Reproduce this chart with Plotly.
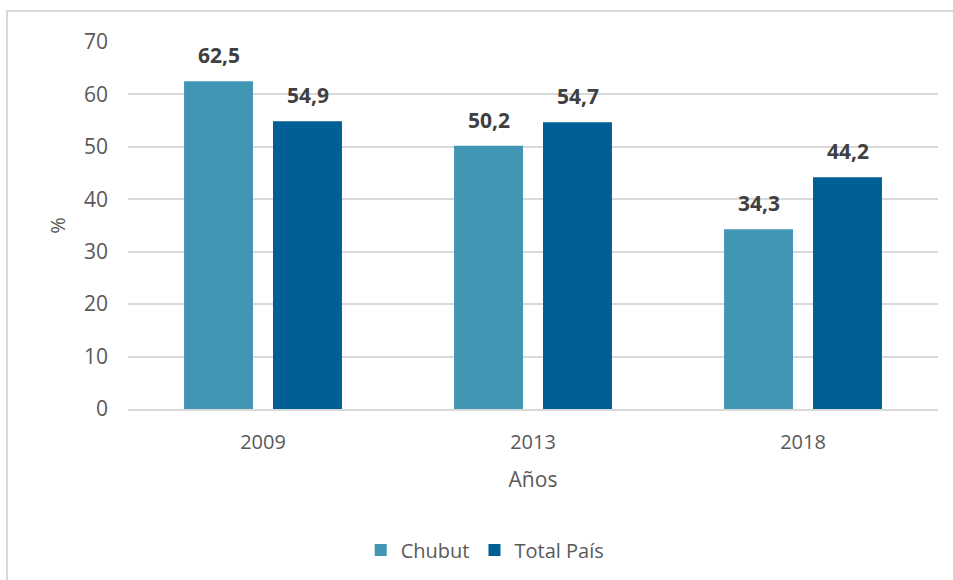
import plotly.graph_objects as go

# Data
years = ["2009", "2013", "2018"]
chubut = [62.5, 50.2, 34.3]
total_pais = [54.9, 54.7, 44.2]

series_names = ["Chubut", "Total País"]
series_colors = ["#4196B4", "#005F95"]

FONT = "Open Sans"
GRAY = "#595959"

fig = go.Figure()
for name, vals, color in zip(series_names, [chubut, total_pais], series_colors):
    fig.add_trace(go.Bar(
        x=years, y=vals, name=name,
        marker=dict(color=color, line=dict(width=0)),
        hoverinfo="x+y+name",
    ))

# Data labels above bars (comma decimal); x given as category index
annotations = []
for vals, shift in [(chubut, -44.5), (total_pais, 44.5)]:
    for i, v in enumerate(vals):
        annotations.append(dict(
            x=i, y=v, xref="x", yref="y",
            text=f"<b>{v:.1f}</b>".replace(".", ","),
            showarrow=False, xshift=shift, yshift=10,
            yanchor="bottom",
            font=dict(family=FONT, size=21, color="#404040"),
        ))

# Chart border (only left and top visible in the frame)
L, T, B, H = 128, 42, 171, 580
pw, ph = 953 - L - 15, H - T - B
def px(x):
    return (x - L) / pw
def py(y):
    return (H - B - y) / ph

shapes = [dict(
    type="path", xref="paper", yref="paper",
    path=f"M {px(7)},{py(600)} L {px(7)},{py(11)} L {px(1000)},{py(11)}",
    line=dict(color="#d9d9d9", width=2),
)]

fig.update_layout(
    width=953, height=580,
    margin=dict(l=L, r=15, t=T, b=B, autoexpand=False),
    paper_bgcolor="white", plot_bgcolor="white",
    font=dict(family=FONT, size=20, color=GRAY),
    barmode="group", bargap=0.341, bargroupgap=0.225,
    showlegend=True,
    legend=dict(orientation="h", x=0.441, xanchor="center",
                y=py(550), yanchor="middle",
                font=dict(family=FONT, size=20, color=GRAY)),
    xaxis=dict(
        type="category", automargin=False, range=[-0.5, 2.5],
        showgrid=False, showline=True, linecolor="#d9d9d9", linewidth=2,
        ticks="", ticklabelstandoff=14,
        tickfont=dict(size=20, color=GRAY),
        title=dict(text="Años", standoff=18,
                   font=dict(size=21, color=GRAY)),
    ),
    yaxis=dict(
        range=[0, 70], dtick=10, showgrid=True, automargin=False,
        gridcolor="#d9d9d9", gridwidth=2, zeroline=False,
        ticks="", ticklabelstandoff=19,
        tickfont=dict(size=21, color=GRAY),
        title=dict(text="%", standoff=12,
                   font=dict(size=20, color=GRAY)),
    ),
    annotations=annotations,
    shapes=shapes,
)

fig.write_html("out.html", config={"displayModeBar": False},
               post_script="document.body.style.margin='0';")
